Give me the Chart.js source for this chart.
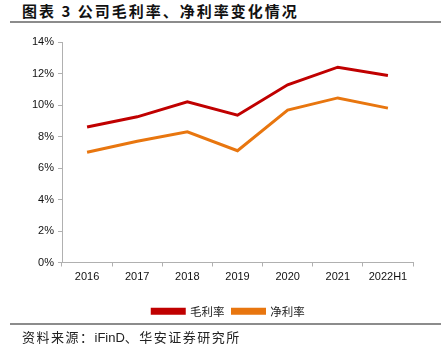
<!DOCTYPE html>
<html>
<head>
<meta charset="utf-8">
<script src="https://cdn.jsdelivr.net/npm/chart.js@4"></script>
<style>
	body { margin: 0; width: 441px; height: 352px; background: #fff; overflow: hidden; position: relative; font-family: "Noto Sans CJK SC", sans-serif; }
	#title { position: absolute; left: 22px; top: 0px; font-size: 15px; font-weight: bold; color: #111; letter-spacing: 2px; white-space: nowrap; }
	#rule1 { position: absolute; left: 10px; right: 0; top: 21px; height: 2px; background: #8c8c8c; }
	#rule2 { position: absolute; left: 10px; right: 0; top: 323px; height: 2px; background: #8c8c8c; }
	#source { position: absolute; left: 22px; top: 327px; font-size: 13px; color: #222; letter-spacing: 1.5px; white-space: nowrap; }
	#wrap { position: absolute; left: 0; top: 0; width: 441px; height: 327px; }
</style>
</head>
<body>
<div id="title">图表 3 公司毛利率、净利率变化情况</div>
<div id="rule1"></div>
<div id="wrap"><canvas id="margin"></canvas></div>
<div id="rule2"></div>
<div id="source">资料来源：<span style="font-family: 'Liberation Sans', Arial; letter-spacing: 0;">iFinD</span>、华安证券研究所</div>
<script>
const years = ["2016", "2017", "2018", "2019", "2020", "2021", "2022H1"];
const grossMargin = [8.6, 9.25, 10.2, 9.35, 11.28, 12.4, 11.87];
const netMargin = [7.0, 7.7, 8.3, 7.1, 9.68, 10.45, 9.8];

// the legend sits a little right of the canvas centre in the original
const legendShift = {
	id: "legendShift",
	afterLayout(chart) {
		chart.legend.left += 22;
		chart.legend.right += 22;
	},
};

const chartMargin = document.getElementById("margin");

const graphMargin = new Chart(chartMargin, {
	type: "line",
	data: {
		labels: years,
		datasets: [
			{
				label: "毛利率",
				data: grossMargin,
				borderColor: "#c00000",
				backgroundColor: "#c00000",
				borderWidth: 3,
				pointRadius: 0,
				tension: 0,
			},
			{
				label: "净利率",
				data: netMargin,
				borderColor: "#e8760f",
				backgroundColor: "#e8760f",
				borderWidth: 3,
				pointRadius: 0,
				tension: 0,
			},
		],
	},
	plugins: [legendShift],
	options: {
		responsive: true,
		maintainAspectRatio: false,
		animation: false,
		layout: {
			padding: { top: 42, right: 28, left: 0, bottom: 0 },
		},
		plugins: {
			legend: {
				display: true,
				position: "bottom",
				labels: {
					boxWidth: 32,
					boxHeight: 4,
					padding: 8,
					color: "#222",
					font: { family: "Noto Sans CJK SC", size: 11.5 },
				},
			},
			tooltip: { enabled: false },
		},
		scales: {
			x: {
				offset: true,
				afterFit: (scale) => { scale.height = 35; },
				grid: {
					offset: true,
					drawOnChartArea: false,
					drawTicks: true,
					tickLength: 4,
					color: "#b0b0b0",
				},
				border: { color: "#b0b0b0" },
				ticks: {
					color: "#111",
					padding: 4,
					font: { family: "Liberation Sans", size: 11 },
				},
			},
			y: {
				min: 0,
				max: 14,
				afterFit: (scale) => { scale.width = 62; },
				grid: {
					drawOnChartArea: false,
					drawTicks: true,
					tickLength: 4,
					color: "#b0b0b0",
				},
				border: { color: "#b0b0b0" },
				ticks: {
					stepSize: 2,
					color: "#111",
					padding: 4,
					font: { family: "Liberation Sans", size: 11 },
					callback: (v) => v + "%",
				},
			},
		},
	},
});
</script>
</body>
</html>
